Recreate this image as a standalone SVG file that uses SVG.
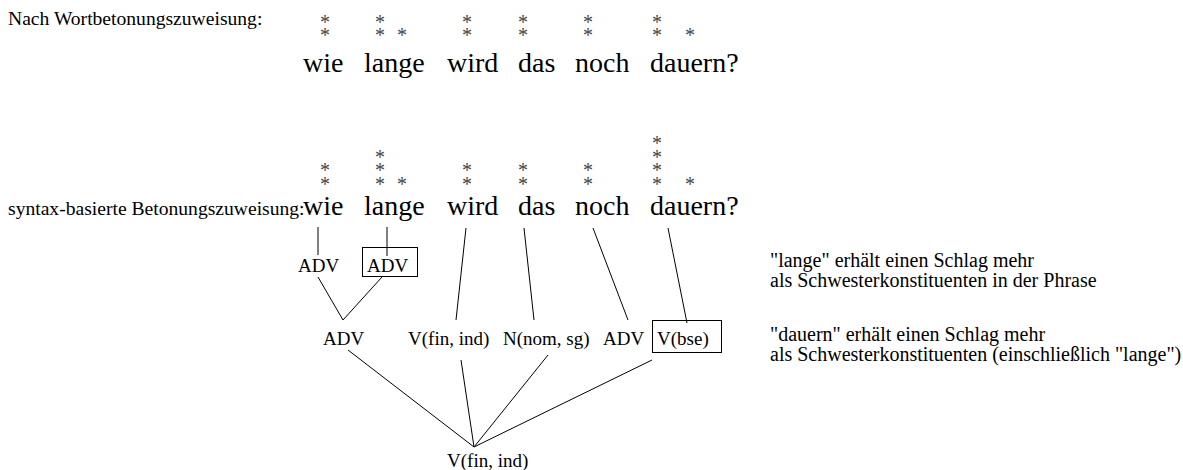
<svg xmlns="http://www.w3.org/2000/svg" width="1183" height="470" viewBox="0 0 1183 470">
  <style>
    text { font-family: "Liberation Serif", "Times New Roman", Times, serif; fill: #000; }
    .lbl { font-size: 19.6px; }
    .note { font-size: 20px; }
    .word { font-size: 28px; }
    .star { font-size: 20px; fill: #444; text-anchor: middle; }
    .cat { font-size: 19px; }
    .edge { stroke: #000; stroke-width: 1; fill: none; }
    .box { stroke: #000; stroke-width: 1; fill: none; }
  </style>

  <!-- Row 1: lexical stress -->
  <g id="row-lexical">
    <text class="lbl" x="8" y="25">Nach Wortbetonungszuweisung:</text>
    <g id="grid-lexical">
      <text class="star" x="325" y="28.5">*</text>
      <text class="star" x="325" y="41.5">*</text>
      <text class="star" x="380" y="28.5">*</text>
      <text class="star" x="380" y="41.5">*</text>
      <text class="star" x="402" y="41.5">*</text>
      <text class="star" x="467" y="28.5">*</text>
      <text class="star" x="467" y="41.5">*</text>
      <text class="star" x="523" y="28.5">*</text>
      <text class="star" x="523" y="41.5">*</text>
      <text class="star" x="588" y="28.5">*</text>
      <text class="star" x="588" y="41.5">*</text>
      <text class="star" x="657" y="28.5">*</text>
      <text class="star" x="657" y="41.5">*</text>
      <text class="star" x="690" y="41.5">*</text>
    </g>
    <text class="word" x="303" y="72">wie</text>
    <text class="word" x="364" y="72">lange</text>
    <text class="word" x="447" y="72">wird</text>
    <text class="word" x="518" y="72">das</text>
    <text class="word" x="575" y="72">noch</text>
    <text class="word" x="650" y="72">dauern?</text>
  </g>

  <!-- Row 2: syntax-based stress -->
  <g id="row-syntax">
    <text class="lbl" x="8" y="215">syntax-basierte Betonungszuweisung:</text>
    <g id="grid-syntax">
      <text class="star" x="325" y="177">*</text>
      <text class="star" x="325" y="190.5">*</text>
      <text class="star" x="380" y="163.5">*</text>
      <text class="star" x="380" y="177">*</text>
      <text class="star" x="380" y="190.5">*</text>
      <text class="star" x="402" y="190.5">*</text>
      <text class="star" x="467" y="177">*</text>
      <text class="star" x="467" y="190.5">*</text>
      <text class="star" x="523" y="177">*</text>
      <text class="star" x="523" y="190.5">*</text>
      <text class="star" x="588" y="177">*</text>
      <text class="star" x="588" y="190.5">*</text>
      <text class="star" x="657" y="150">*</text>
      <text class="star" x="657" y="163.5">*</text>
      <text class="star" x="657" y="177">*</text>
      <text class="star" x="657" y="190.5">*</text>
      <text class="star" x="690" y="190.5">*</text>
    </g>
    <text class="word" x="303" y="215">wie</text>
    <text class="word" x="364" y="215">lange</text>
    <text class="word" x="447" y="215">wird</text>
    <text class="word" x="518" y="215">das</text>
    <text class="word" x="575" y="215">noch</text>
    <text class="word" x="650" y="215">dauern?</text>
  </g>

  <!-- Tree nodes -->
  <g id="n-adv-wie"><text class="cat" x="298" y="272">ADV</text></g>
  <g id="n-adv-lange">
    <rect class="box" x="362.5" y="247.5" width="55" height="29"/>
    <text class="cat" x="367" y="272">ADV</text>
  </g>
  <g id="n-adv-phrase"><text class="cat" x="323" y="345">ADV</text></g>
  <g id="n-vfin"><text class="cat" x="408" y="345">V(fin, ind)</text></g>
  <g id="n-nom"><text class="cat" x="503" y="345">N(nom, sg)</text></g>
  <g id="n-adv-noch"><text class="cat" x="603" y="345">ADV</text></g>
  <g id="n-vbse">
    <rect class="box" x="652.5" y="320.5" width="69" height="32"/>
    <text class="cat" x="657" y="345">V(bse)</text>
  </g>
  <g id="n-root"><text class="cat" x="447" y="467">V(fin, ind)</text></g>

  <!-- Connectors -->
  <g id="connectors">
    <line class="edge" x1="318" y1="227" x2="318" y2="255"/>
    <line class="edge" x1="387" y1="227" x2="387" y2="256"/>
    <polyline class="edge" points="318,277 343,320 382,277"/>
    <line class="edge" x1="466" y1="228" x2="456" y2="320"/>
    <line class="edge" x1="524" y1="228" x2="534" y2="320"/>
    <line class="edge" x1="593" y1="228" x2="628" y2="320"/>
    <line class="edge" x1="668" y1="228" x2="687" y2="323"/>
    <line class="edge" x1="348" y1="350" x2="474" y2="447"/>
    <line class="edge" x1="461" y1="360" x2="474" y2="447"/>
    <line class="edge" x1="548" y1="355" x2="474" y2="447"/>
    <line class="edge" x1="652" y1="360" x2="474" y2="447"/>
  </g>

  <!-- Annotations -->
  <g id="notes">
    <text class="note" x="770" y="267">"lange" erhält einen Schlag mehr</text>
    <text class="note" x="770" y="287">als Schwesterkonstituenten in der Phrase</text>
    <text class="note" x="770" y="341">"dauern" erhält einen Schlag mehr</text>
    <text class="note" x="770" y="361">als Schwesterkonstituenten (einschließlich "lange")</text>
  </g>
</svg>
